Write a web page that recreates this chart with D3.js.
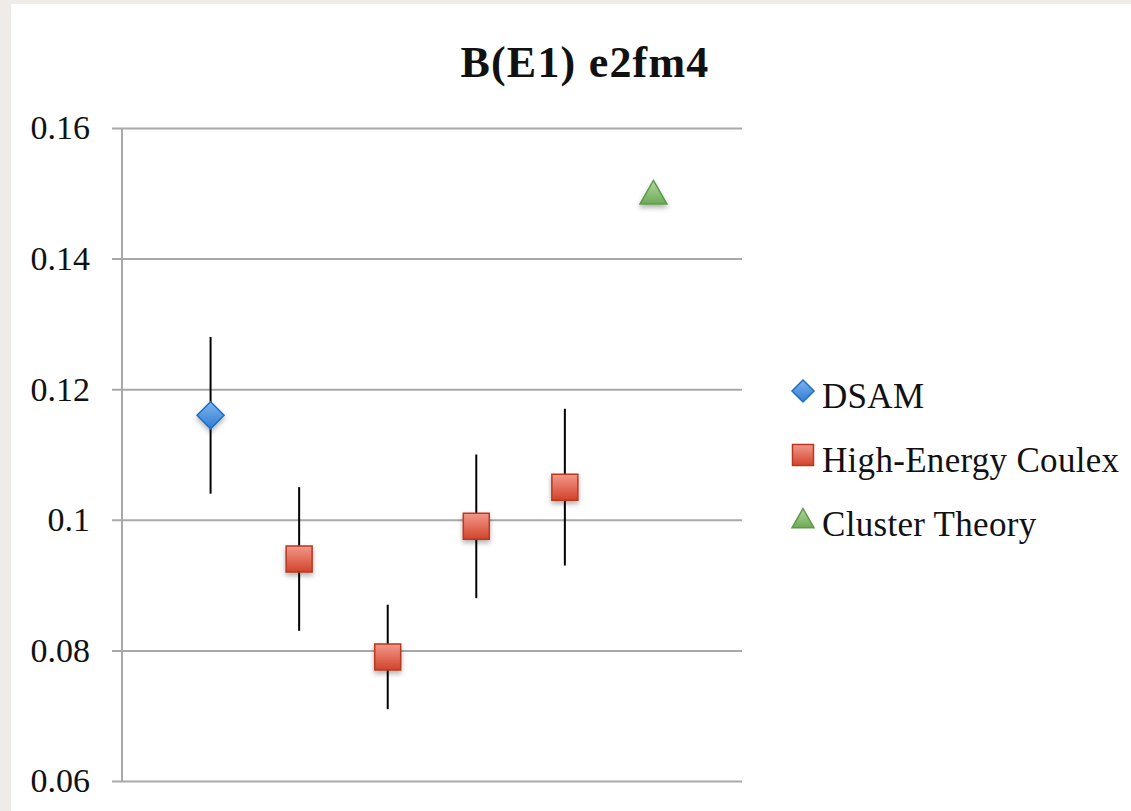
<!DOCTYPE html>
<html>
<head>
<meta charset="utf-8">
<script src="https://cdn.jsdelivr.net/npm/d3@7"></script>
<style>
  html, body { margin: 0; padding: 0; background: #eeebe8; }
  svg { display: block; }
  text { font-family: "Liberation Serif", "Times New Roman", serif; fill: #111; }
</style>
</head>
<body>
<div id="chart-area"></div>
<script>
// data
const yTicks = [0.06, 0.08, 0.1, 0.12, 0.14, 0.16];
const yTickLabels = ['0.06', '0.08', '0.1', '0.12', '0.14', '0.16'];

const dsamX = [1];
const dsamY = [0.116];
const dsamErr = [0.012];

const coulexX = [2, 3, 4, 5];
const coulexY = [0.094, 0.079, 0.099, 0.105];
const coulexErr = [0.011, 0.008, 0.011, 0.012];

const theoryX = [6];
const theoryY = [0.150];

const seriesNames = ['DSAM', 'High-Energy Coulex', 'Cluster Theory'];
const seriesShapes = ['diamond', 'square', 'triangle'];

const W = 1131, H = 811;

const svg = d3.select('#chart-area').append('svg')
  .attr('width', W)
  .attr('height', H);

// white card with the grey frame showing top and left
svg.append('rect')
  .attr('x', 11).attr('y', 4)
  .attr('width', W - 11).attr('height', H - 4)
  .attr('fill', '#fff');

const defs = svg.append('defs');
const grad = (id, top, bottom) => {
  let g = defs.append('linearGradient').attr('id', id)
    .attr('x1', 0).attr('y1', 0).attr('x2', 0).attr('y2', 1);
  g.append('stop').attr('offset', '0%').attr('stop-color', top);
  g.append('stop').attr('offset', '100%').attr('stop-color', bottom);
};
grad('g-diamond', '#7fb4ef', '#2e7dd3');
grad('g-square', '#f2988a', '#d2442c');
grad('g-triangle', '#b3d89f', '#6caa55');
defs.append('filter').attr('id', 'shadow')
  .attr('x', '-50%').attr('y', '-50%').attr('width', '200%').attr('height', '200%')
  .append('feDropShadow')
  .attr('dx', 0).attr('dy', 3).attr('stdDeviation', 2.5)
  .attr('flood-color', '#000').attr('flood-opacity', 0.3);

const styles = {
  diamond: { fill: 'url(#g-diamond)', stroke: '#1f6fc2' },
  square: { fill: 'url(#g-square)', stroke: '#b8381f' },
  triangle: { fill: 'url(#g-triangle)', stroke: '#5f9a4a' }
};

// path for each marker shape, centred at 0,0
const shapePath = (shape, s) => {
  let h = s / 2;
  if (shape === 'diamond') return `M0,${-h}L${h},0L0,${h}L${-h},0Z`;
  if (shape === 'square') return `M${-h},${-h}H${h}V${h}H${-h}Z`;
  return `M0,${-h * 0.95}L${h},${h * 0.8}H${-h}Z`;
};

// scales
const x = d3.scaleLinear().domain([0, 7]).range([122, 742]);
const y = d3.scaleLinear().domain([0.06, 0.16]).range([781, 128]);

// title
svg.append('text')
  .attr('x', 585).attr('y', 77)
  .attr('text-anchor', 'middle')
  .attr('font-size', '44px')
  .attr('letter-spacing', '1.2px')
  .attr('font-weight', 'bold')
  .text('B(E1) e2fm4');

// gridlines + y labels
const yAxis = d3.axisLeft(y)
  .tickValues(yTicks)
  .tickSize(-(x.range()[1] - x.range()[0]) - 10)
  .tickPadding(22)
  .tickFormat((d, i) => yTickLabels[i]);
const yAxisGroup = svg.append('g')
  .attr('transform', `translate(${x.range()[0] - 10},0)`)
  .call(yAxis);
yAxisGroup.select('.domain').remove();
yAxisGroup.selectAll('.tick line')
  .attr('stroke', '#a9a9a9')
  .attr('stroke-width', 2);
yAxisGroup.selectAll('.tick text')
  .attr('font-size', '34px')
  .attr('font-family', '"Liberation Serif", serif')
  .attr('fill', '#111');

// vertical axis line
svg.append('line')
  .attr('x1', x(0)).attr('x2', x(0))
  .attr('y1', y(0.16)).attr('y2', y(0.06))
  .attr('stroke', '#a9a9a9')
  .attr('stroke-width', 2);

// error bars
const bars = dsamX.map((d, i) => ({ x: d, y: dsamY[i], e: dsamErr[i] }))
  .concat(coulexX.map((d, i) => ({ x: d, y: coulexY[i], e: coulexErr[i] })));
svg.append('g').selectAll('line')
  .data(bars)
  .enter().append('line')
  .attr('x1', d => x(d.x)).attr('x2', d => x(d.x))
  .attr('y1', d => y(d.y + d.e)).attr('y2', d => y(d.y - d.e))
  .attr('stroke', '#000')
  .attr('stroke-width', 2);

// markers
const drawMarkers = (xs, ys, shape, size) => {
  svg.append('g').selectAll('path')
    .data(xs.map((d, i) => ({ x: d, y: ys[i] })))
    .enter().append('path')
    .attr('transform', d => `translate(${x(d.x)},${y(d.y)})`)
    .attr('d', shapePath(shape, size))
    .attr('fill', styles[shape].fill)
    .attr('stroke', styles[shape].stroke)
    .attr('stroke-width', 1.5)
    .attr('filter', 'url(#shadow)');
};
drawMarkers(dsamX, dsamY, 'diamond', 27);
drawMarkers(coulexX, coulexY, 'square', 26);
drawMarkers(theoryX, theoryY, 'triangle', 27);

// legend
const legend = svg.append('g').attr('transform', 'translate(803,391)');
seriesNames.forEach((name, i) => {
  let row = legend.append('g').attr('transform', `translate(0,${i * 64})`);
  row.append('path')
    .attr('d', shapePath(seriesShapes[i], seriesShapes[i] === 'square' ? 21 : 22))
    .attr('fill', styles[seriesShapes[i]].fill)
    .attr('stroke', styles[seriesShapes[i]].stroke)
    .attr('stroke-width', 1.5);
  row.append('text')
    .attr('x', 19)
    .attr('y', 17)
    .attr('font-size', '35px')
    .attr('letter-spacing', '0.3px')
    .text(name);
});
</script>
</body>
</html>
